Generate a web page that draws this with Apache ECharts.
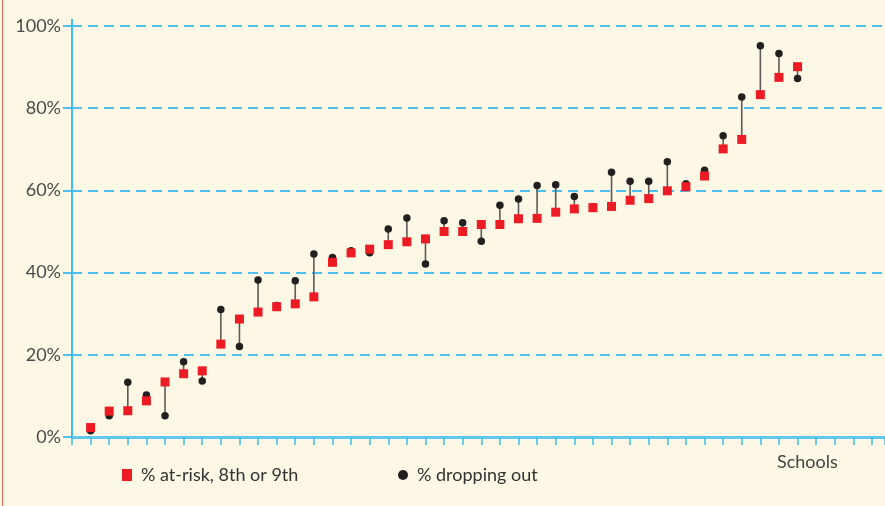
<!DOCTYPE html>
<html>
<head>
<meta charset="utf-8">
<script src="https://cdn.jsdelivr.net/npm/echarts@6/dist/echarts.min.js"></script>
<style>
html,body{margin:0;padding:0;background:#fdf7e6;}
#chart{width:885px;height:506px;position:absolute;left:0;top:0;}
#edge{position:absolute;left:2px;top:0;width:1px;height:506px;background:#f06a5a;}
</style>
</head>
<body>
<div id="chart"></div>
<div id="edge"></div>
<script>
const schools = [1,2,3,4,5,6,7,8,9,10,11,12,13,14,15,16,17,18,19,20,21,22,23,24,25,26,27,28,29,30,31,32,33,34,35,36,37,38,39];
const atRisk = [2.3, 6.3, 6.4, 8.8, 13.4, 15.4, 16.1, 22.6, 28.7, 30.4, 31.7, 32.4, 34.1, 42.5, 44.8, 45.7, 46.8, 47.5, 48.2, 50.0, 50.0, 51.7, 51.7, 53.1, 53.2, 54.7, 55.5, 55.8, 56.1, 57.6, 58.0, 59.9, 60.9, 63.5, 70.1, 72.4, 83.3, 87.5, 90.1];
const dropping = [1.5, 5.2, 13.3, 10.2, 5.2, 18.3, 13.6, 31.0, 22.0, 38.2, 32.0, 38.0, 44.5, 43.7, 45.3, 44.8, 50.6, 53.3, 42.1, 52.6, 52.1, 47.6, 56.4, 57.9, 61.2, 61.4, 58.5, 56.0, 64.4, 62.2, 62.2, 67.0, 61.6, 64.9, 73.3, 82.7, 95.2, 93.3, 87.2];
const yTicks = [0, 20, 40, 60, 80, 100];
const seriesNames = ['% at-risk, 8th or 9th', '% dropping out'];
const xLabel = 'Schools';

const font = 'Lato, "Open Sans", sans-serif';
const chart = echarts.init(document.getElementById('chart'), null, {renderer: 'canvas'});

const rangeData = schools.map((s, i) => [s, atRisk[i], dropping[i]]);

const option = {
  backgroundColor: 'transparent',
  animation: false,
  grid: {left: 72, right: 0, top: 26, bottom: 69, containLabel: false},
  xAxis: {
    type: 'value', min: 0, max: 43.7, interval: 1,
    axisLine: {show: true, lineStyle: {color: '#62c8ef', width: 3}},
    axisTick: {show: true, length: 8, lineStyle: {color: '#3dbdf0', width: 1.5}},
    axisLabel: {show: false},
    splitLine: {show: false}
  },
  yAxis: {
    type: 'value', min: yTicks[0], max: yTicks[yTicks.length - 1], interval: 20,
    axisLine: {show: true, lineStyle: {color: '#3dbdf0', width: 2}},
    axisTick: {show: true, length: 9, lineStyle: {color: '#1aaff0', width: 1.5}},
    axisLabel: {formatter: '{value}%', color: '#4a4a4a', fontSize: 18, fontFamily: font, margin: 11},
    splitLine: {show: true, lineStyle: {color: '#14aef0', width: 1.5, type: [10, 6]}}
  },
  legend: [
    {data: [{name: seriesNames[0], icon: 'rect'}], left: 117, top: 461, itemWidth: 10, itemHeight: 12,
     textStyle: {color: '#333', fontSize: 18, fontFamily: font, padding: [0, 0, 0, 4]}},
    {data: [{name: seriesNames[1], icon: 'circle'}], left: 393, top: 461, itemWidth: 10, itemHeight: 10,
     textStyle: {color: '#333', fontSize: 18, fontFamily: font, padding: [0, 0, 0, 4]}}
  ],
  series: [
    {
      type: 'custom', name: 'range', data: rangeData, z: 2, silent: true,
      encode: {x: 0, y: [1, 2]},
      renderItem: function (params, api) {
        const a = api.coord([api.value(0), api.value(1)]);
        const b = api.coord([api.value(0), api.value(2)]);
        return {type: 'line', shape: {x1: a[0], y1: a[1], x2: b[0], y2: b[1]},
                style: {stroke: '#5e5a56', lineWidth: 1.6}};
      }
    },
    {
      type: 'scatter', name: seriesNames[1], z: 3,
      data: schools.map((s, i) => [s, dropping[i]]),
      symbol: 'circle', symbolSize: 7.5,
      itemStyle: {color: '#231f20', opacity: 1}
    },
    {
      type: 'scatter', name: seriesNames[0], z: 4,
      data: schools.map((s, i) => [s, atRisk[i]]),
      symbol: 'rect', symbolSize: 9,
      itemStyle: {color: '#ed1c24', opacity: 1}
    }
  ]
};
chart.setOption(option);
const top100 = chart.convertToPixel({gridIndex: 0}, [0, yTicks[yTicks.length - 1]]);
chart.setOption({graphic: [
  {type: 'text', left: 777, top: 453, style: {text: xLabel, fill: '#444', fontSize: 18, fontFamily: font}},
  {type: 'line', shape: {x1: top100[0], y1: top100[1] - 7, x2: top100[0], y2: top100[1]},
   style: {stroke: '#3dbdf0', lineWidth: 2}, z: 5}
]});
</script>
</body>
</html>
